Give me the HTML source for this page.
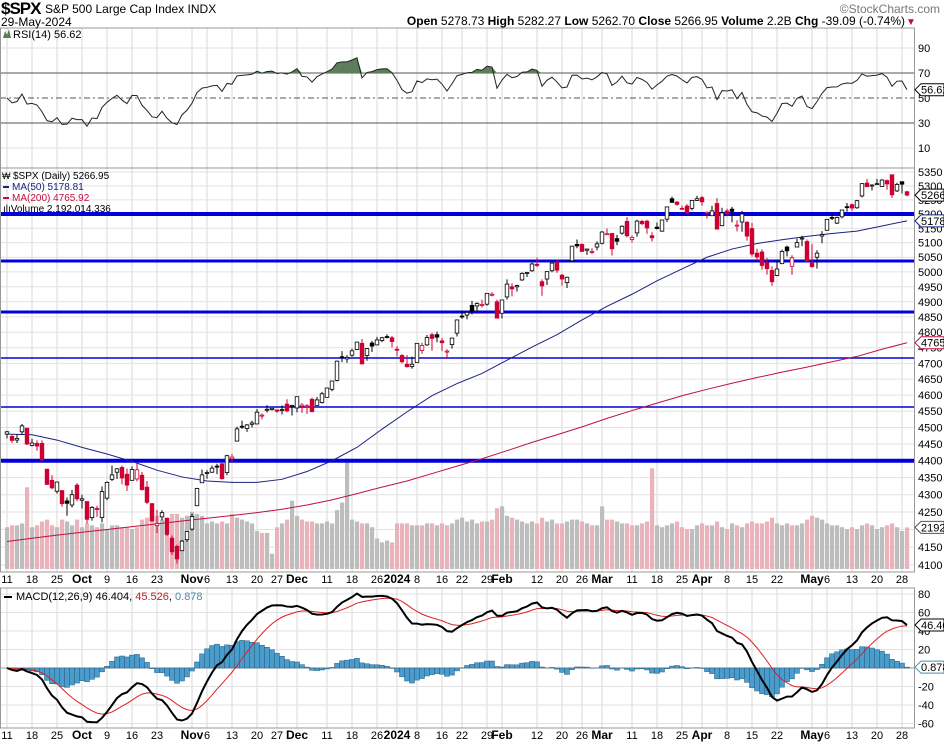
<!DOCTYPE html>
<html><head><meta charset="utf-8"><style>
html,body{margin:0;padding:0;background:#fff;}
svg{display:block;font-family:"Liberation Sans",sans-serif;}
</style></head><body>
<svg id="chart" width="944" height="746" viewBox="0 0 944 746" xmlns="http://www.w3.org/2000/svg">
<rect x="0" y="0" width="944" height="746" fill="#fff"/>
<g id="grid"></g>
<g id="vol"></g>
<g id="rsi"></g>
<g id="support"></g>
<g id="mas"></g>
<g id="candles"></g>
<g id="macd"></g>
<g id="axes"></g>
<g>
<text x="1" y="14" font-size="17" font-weight="bold" letter-spacing="-1">$SPX</text>
<text x="45" y="13" font-size="12">S&amp;P 500 Large Cap Index INDX</text>
<text x="1" y="26" font-size="12">29-May-2024</text>
<text x="940" y="13" font-size="12" fill="#777" text-anchor="end">©StockCharts.com</text>
<text x="905" y="25" font-size="12" text-anchor="end"><tspan font-weight="bold">Open</tspan> 5278.73 <tspan font-weight="bold">High</tspan> 5282.27 <tspan font-weight="bold">Low</tspan> 5262.70 <tspan font-weight="bold">Close</tspan> 5266.95 <tspan font-weight="bold">Volume</tspan> 2.2B <tspan font-weight="bold">Chg</tspan> -39.09 (-0.74%)</text>
<text x="906" y="25" font-size="10" fill="#b0103a">▼</text>
<text x="13" y="38" font-size="11">RSI(14) 56.62</text>
<path d="M3,38 L5,31 L7,35 L9,29 L11,38 Z" fill="#5a7a5a"/>
<text x="13" y="179" font-size="10">$SPX (Daily) 5266.95</text>
<text x="2" y="179" font-size="9">₩</text>
<rect x="3" y="186" width="6" height="2" fill="#1a237e"/>
<text x="12" y="190" font-size="10" fill="#1a237e">MA(50) 5178.81</text>
<rect x="3" y="197" width="6" height="2" fill="#c01040"/>
<text x="12" y="201" font-size="10" fill="#c01040">MA(200) 4765.92</text>
<text x="3" y="212" font-size="10">ılıVolume 2,192,014,336</text>
<rect x="4" y="596" width="8" height="2" fill="#000"/>
<text x="16" y="600" font-size="11">MACD(12,26,9) 46.404, <tspan fill="#c02020">45.526</tspan>, <tspan fill="#4a8ab0">0.878</tspan></text>
</g>
</svg>
<script>
const opens=[4480,4473,4462,4487,4498,4446,4452,4452,4375,4342,4310,4312,4282,4270,4328,
4284,4280,4234,4260,4234,4290,4345,4366,4380,4360,4342,4346,4357,4322,4274,4211,4236,4232,4175,4152,4140,4171,
4201,4268,4335,4365,4366,4384,4391,4365,4406,4459,4504,4497,4510,4511,4538,4554,4555,4554,4554,4572,4567,
4560,4565,4564,4587,4568,4577,4593,4618,4646,4721,4714,4726,4744,4764,4725,4765,4759,4773,4786,4782,
4745,4725,4697,4690,4703,4741,4759,4792,4792,4772,4739,4760,4797,4853,4856,4888,4886,4888,4892,4925,4900,
4862,4916,4950,4950,4973,4995,5004,5026,4967,4976,5004,5032,4989,4964,5038,5094,5094,5074,5068,5085,
5098,5131,5132,5114,5133,5174,5111,5134,5174,5175,5124,5154,5140,5182,5254,5242,5220,5228,5220,5248,
5258,5204,5194,5237,5159,5211,5217,5160,5172,5171,5149,5064,5068,5031,5005,4988,5028,5085,5019,5085,5115,5104,
5030,5050,5123,5143,5188,5168,5190,5226,5233,5222,5264,5310,5303,5306,5298,5319,5340,5282,5315,5279];
const highs=[4490,4480,4479,4511,4498,4466,4461,4461,4376,4357,4338,4313,4292,4314,4334,
4300,4281,4267,4268,4324,4339,4386,4378,4386,4377,4383,4394,4367,4340,4276,4256,4255,4233,4183,4157,4170,4194,
4245,4320,4374,4372,4386,4391,4393,4418,4421,4503,4521,4511,4521,4557,4543,4569,4560,4555,4568,4587,4570,
4595,4575,4572,4592,4594,4610,4623,4643,4709,4739,4726,4747,4769,4778,4749,4772,4785,4785,4793,4788,
4755,4729,4726,4721,4765,4766,4791,4798,4802,4782,4745,4782,4842,4868,4866,4903,4898,4907,4929,4932,4907,
4906,4975,4962,4957,4999,5000,5031,5049,4975,5002,5033,5039,4994,4984,5089,5111,5097,5080,5081,5105,
5140,5149,5134,5127,5160,5189,5125,5180,5180,5180,5136,5170,5180,5226,5261,5246,5229,5235,5249,5264,
5264,5209,5229,5256,5222,5219,5225,5178,5211,5175,5169,5079,5077,5048,5019,5039,5076,5090,5057,5114,5124,5111,
5096,5074,5140,5180,5200,5191,5215,5239,5237,5250,5309,5325,5306,5325,5324,5323,5341,5311,5315,5282];
const lows=[4467,4453,4453,4479,4447,4443,4430,4401,4329,4316,4303,4265,4239,4263,4281,
4260,4217,4225,4236,4220,4284,4340,4346,4330,4311,4342,4339,4312,4273,4223,4190,4226,4181,4128,4104,4139,4165,
4197,4268,4335,4347,4364,4360,4344,4357,4394,4459,4496,4487,4500,4511,4525,4546,4552,4545,4540,4547,4537,
4547,4545,4542,4546,4568,4574,4593,4612,4643,4704,4702,4721,4744,4697,4708,4736,4758,4768,4780,4751,
4722,4700,4687,4683,4703,4730,4756,4740,4768,4739,4714,4747,4786,4844,4842,4858,4870,4881,4887,4918,4845,
4845,4907,4918,4934,4970,4983,5000,5016,4920,4956,4999,4997,4954,4946,5038,5081,5069,5058,5061,5074,
5094,5128,5056,5091,5128,5118,5100,5121,5161,5131,5104,5146,5138,5172,5240,5229,5216,5203,5213,5246,
5229,5184,5194,5146,5157,5192,5171,5139,5138,5107,5052,5039,5008,4991,4953,4986,5028,5053,4990,5085,5088,5035,
5014,5011,5098,5143,5179,5165,5185,5208,5211,5218,5259,5296,5284,5303,5297,5286,5257,5278,5273,5263];
const closes=[4487,4461,4467,4505,4450,4453,4444,4402,4330,4320,4337,4274,4275,4300,4288,
4288,4229,4263,4258,4309,4336,4358,4376,4349,4328,4374,4373,4315,4278,4224,4217,4248,4186,4137,4117,4167,4194,
4237,4318,4358,4365,4378,4383,4347,4415,4411,4496,4502,4508,4514,4547,4538,4556,4559,4550,4555,4551,4568,
4595,4569,4567,4549,4585,4604,4622,4644,4707,4719,4719,4740,4768,4698,4747,4755,4775,4782,4783,4770,
4743,4705,4689,4697,4764,4757,4783,4780,4784,4766,4739,4781,4840,4851,4865,4868,4894,4891,4928,4925,4846,
4906,4959,4943,4954,4995,4998,5027,5022,4953,5001,5030,5006,4976,4982,5088,5089,5070,5078,5070,5096,
5137,5131,5079,5105,5157,5124,5118,5175,5166,5151,5117,5149,5179,5225,5241,5234,5218,5204,5248,5254,
5243,5206,5211,5147,5204,5202,5209,5161,5200,5123,5061,5051,5022,5011,4967,5010,5070,5072,5048,5100,5116,5036,
5018,5064,5128,5181,5187,5188,5214,5223,5221,5247,5308,5297,5303,5308,5321,5307,5268,5305,5306,5267];
const volumes=[2.2,2.3,2.3,2.4,4.3,2.2,2.3,2.5,2.6,2.3,2.2,2.6,2.5,2.3,2.6,
2.2,2.4,2.3,2.2,2.4,2.1,2.3,2.3,2.2,2.2,2.1,2.2,2.6,2.7,2.8,2.8,2.6,2.7,2.9,2.9,2.7,2.8,
3.0,2.9,2.8,2.4,2.5,2.4,2.5,2.4,2.9,2.7,2.6,2.5,2.4,2.0,1.9,1.9,0.8,2.2,2.4,2.6,3.6,
2.8,2.6,2.5,2.5,2.4,2.4,2.5,2.4,3.1,3.5,5.8,2.6,2.5,2.4,2.4,2.2,1.6,1.4,1.5,1.4,
2.4,2.4,2.4,2.3,2.3,2.3,2.4,2.4,2.3,2.4,2.3,2.4,2.6,2.7,2.5,2.6,2.4,2.5,2.5,2.6,3.2,
3.3,2.8,2.7,2.6,2.5,2.4,2.5,2.4,2.7,2.5,2.6,2.4,2.4,2.5,2.6,2.6,2.5,2.4,2.3,2.3,
3.3,2.6,2.6,2.5,2.4,2.4,2.3,2.3,2.4,2.5,5.3,2.3,2.2,2.3,2.4,2.5,2.2,2.1,2.1,2.3,
2.4,2.3,2.3,2.5,2.2,2.1,2.4,2.3,2.2,2.4,2.5,2.4,2.4,2.5,2.7,2.4,2.3,2.4,2.3,2.3,2.4,2.6,
2.8,2.7,2.6,2.4,2.3,2.3,2.2,2.1,2.2,2.1,2.3,2.4,2.3,2.1,2.2,2.3,2.4,2.2,2.0,2.19];
const ma50=[4480,4478,4462,4440,4420,4398,4372,4352,4340,4336,4336,4345,4368,4400,4440,4495,4548,4598,4636,4668,4710,4752,4792,4840,4885,4925,4970,5010,5050,5078,5097,5110,5122,5132,5140,5158,5176];
const ma200=[4166,4175,4184,4192,4200,4208,4216,4224,4232,4240,4248,4258,4270,4285,4303,4322,4340,4362,4384,4406,4430,4455,4478,4502,4528,4552,4575,4598,4618,4637,4655,4672,4688,4705,4722,4745,4766];
const supportLevels=[5200,5037,4866,4717,4563,4400];
const priceTicks=[4100,4150,4200,4250,4300,4350,4400,4450,4500,4550,4600,4650,4700,4750,4800,4850,4900,4950,5000,5050,5100,5150,5200,5250,5300,5350];
const rsiTicks=[90,70,50,30,10];
const macdTicks=[80,60,40,20,-20,-40,-60];
const dateLabelIdx=[0,5,10,15,20,25,30,37,40,45,50,54,58,64,69,74,78,82,87,91,96,99,106,111,115,119,125,130,135,139,144,149,154,161,164,169,174,179];
const dateLabelText=['11','18','25','Oct','9','16','23','Nov','6','13','20','27','Dec','11','18','26','2024','8','16','22','29','Feb','12','20','26','Mar','11','18','25','Apr','8','15','22','May','6','13','20','28'];

const NS='http://www.w3.org/2000/svg';
function mk(parent,tag,attrs){const e=document.createElementNS(NS,tag);for(const k in attrs)e.setAttribute(k,attrs[k]);parent.appendChild(e);return e;}
const PR=914;
const xi=i=>7+i*5;
const yP=p=>172+1477*Math.log(5350/p);
const yV=v=>569-v*19;
const yR=v=>98-(v-50)*1.25;
const yM=v=>668-v*0.925;
const G=id=>document.getElementById(id);

// grid
const grid=G('grid');
dateLabelIdx.forEach(i=>{
  [[28,168],[168,572],[588,728]].forEach(([a,b])=>{
    const l=mk(grid,'line',{x1:xi(i),x2:xi(i),y1:a,y2:b,stroke:'#d8d8d8','stroke-width':1});
    
    
  });
});
priceTicks.forEach(p=>{const l=mk(grid,'line',{x1:0,x2:PR,y1:yP(p),y2:yP(p),stroke:'#e2e2e2'});
  
  });
[90,10].forEach(v=>{const l=mk(grid,'line',{x1:0,x2:PR,y1:yR(v),y2:yR(v),stroke:'#e2e2e2'});
  
  });
macdTicks.forEach(v=>{const l=mk(grid,'line',{x1:0,x2:PR,y1:yM(v),y2:yM(v),stroke:'#e2e2e2'});
  
  });

// volume
const vol=G('vol');
volumes.forEach((v,i)=>{
  const down=i>0&&closes[i]<closes[i-1];
  const r=mk(vol,'rect',{x:xi(i)-2,y:yV(v),width:4.2,height:569-yV(v),fill:down?'#eab3bb':'#bdbdbd'});
  
  
});

// RSI
const rsiVals=[];let ag=12,al=12;
for(let i=0;i<closes.length;i++){
  if(i>0){const d=closes[i]-closes[i-1];ag=(ag*13+Math.max(d,0))/14;al=(al*13+Math.max(-d,0))/14;}
  rsiVals.push(100-100/(1+ag/al));
}
const rsiG=G('rsi');
[[70,'none'],[30,'none'],[50,'6,3,2,3']].forEach(([v,da])=>{
  const l=mk(rsiG,'line',{x1:0,x2:PR,y1:yR(v),y2:yR(v),stroke:'#555','stroke-width':1,'stroke-dasharray':da});
  
  
});
let fillPts='';
rsiVals.forEach((v,i)=>{fillPts+=xi(i)+','+Math.min(yR(v),yR(70))+' ';});
const cp=mk(rsiG,'clipPath',{id:'c70'});mk(cp,'rect',{x:0,y:28,width:PR,height:yR(70)-28});
const fp=mk(rsiG,'polygon',{points:xi(0)+','+yR(70)+' '+fillPts+xi(closes.length-1)+','+yR(70),fill:'#5d7d5d','clip-path':'url(#c70)'});


const rl=mk(rsiG,'polyline',{points:rsiVals.map((v,i)=>xi(i)+','+yR(v)).join(' '),fill:'none',stroke:'#222','stroke-width':1});



// support lines
const sw=[4,3,3,1.5,1.5,4];
const sg=G('support');
supportLevels.forEach((p,k)=>{
  const l=mk(sg,'line',{x1:0,x2:PR,y1:yP(p),y2:yP(p),stroke:'#0000dd','stroke-width':sw[k]});
  
  
});

// MAs
const mg=G('mas');
const m50=mk(mg,'polyline',{points:ma50.map((v,k)=>xi(k*5)+','+yP(v)).join(' '),fill:'none',stroke:'#1a237e','stroke-width':1});


const m200=mk(mg,'polyline',{points:ma200.map((v,k)=>xi(k*5)+','+yP(v)).join(' '),fill:'none',stroke:'#c01040','stroke-width':1});



// candles
const cg=G('candles');
closes.forEach((c,i)=>{
  const o=opens[i];const down=i>0&&c<closes[i-1];const col=down?'#cc0033':'#000';
  const x=xi(i);
  const w=mk(cg,'line',{x1:x,x2:x,y1:yP(highs[i]),y2:yP(lows[i]),stroke:col,'stroke-width':1});
  
  
  const top=yP(Math.max(o,c)),bot=yP(Math.min(o,c));
  const b=mk(cg,'rect',{x:x-1.8,y:top,width:3.6,height:Math.max(bot-top,1),fill:c>=o?'#fff':col,stroke:col,'stroke-width':0.8});
  
  
});

// MACD
const e12=[],e26=[],sig=[],macdV=[],hist=[];
let a=closes[0],b=closes[0],s=0;
closes.forEach((c,i)=>{a=a+(c-a)*2/13;b=b+(c-b)*2/27;const m=a-b;s=s+(m-s)*0.2;macdV.push(m);sig.push(s);hist.push(m-s);});
const mgp=G('macd');
const zl=mk(mgp,'line',{x1:0,x2:PR,y1:yM(0),y2:yM(0),stroke:'#999'});


hist.forEach((h,i)=>{
  const y0=yM(0),y1=yM(h);
  const r=mk(mgp,'rect',{x:xi(i)-2.5,y:Math.min(y0,y1),width:5,height:Math.abs(y1-y0),fill:'#4a9ccc',stroke:'#2a5f80','stroke-width':0.5});
  
  
});
const sl=mk(mgp,'polyline',{points:sig.map((v,i)=>xi(i)+','+yM(v)).join(' '),fill:'none',stroke:'#e02020','stroke-width':1});


const ml=mk(mgp,'polyline',{points:macdV.map((v,i)=>xi(i)+','+yM(v)).join(' '),fill:'none',stroke:'#000','stroke-width':2});



// axes / frames / labels
const ax=G('axes');
[[28,168],[168,572],[588,728]].forEach(([a1,b1])=>{
  const r=mk(ax,'rect',{x:0.5,y:a1,width:PR,height:b1-a1,fill:'none',stroke:'#999'});
  
  
});
function txt(x,y,t,attrs,name){const e=mk(ax,'text',Object.assign({x:x,y:y,'font-size':11},attrs||{}));e.textContent=t;
  
  return e;}
priceTicks.forEach(p=>txt(918,yP(p)+4,String(p),{},'price-tick-label'));
rsiTicks.forEach(v=>txt(918,yR(v)+4,String(v),{},'rsi-tick-label'));
macdTicks.forEach(v=>txt(918,yM(v)+4,String(v),{},'macd-tick-label'));
[[583],[739]].forEach(([yy])=>{
  dateLabelIdx.forEach((i,k)=>{
    const bold=isNaN(+dateLabelText[k])||dateLabelText[k]==='2024';
    txt(xi(i),yy,dateLabelText[k],{'text-anchor':'middle','font-weight':bold?'bold':'normal','font-size':bold?12:11},'date-label');
  });
});
function marker(y,t,color,name){
  const p=mk(ax,'path',{d:`M915,${y} L921,${y-6} L944,${y-6} L944,${y+6} L921,${y+6} Z`,fill:'#fff',stroke:color,'stroke-width':1});
  
  
  txt(921,y+4,t,{fill:'#000','font-size':11},name);
}
marker(yP(closes[closes.length-1]),'5266.95','#000','last-price-marker');
marker(yP(ma50[ma50.length-1]),'5178.81','#1a237e','ma50-marker');
marker(yP(ma200[ma200.length-1]),'4765.92','#c01040','ma200-marker');
marker(yV(volumes[volumes.length-1]),'2192014336','#555','volume-marker');
marker(yR(rsiVals[rsiVals.length-1]),'56.62','#000','rsi-marker');
marker(yM(macdV[macdV.length-1]),'46.404','#000','macd-marker');
marker(yM(hist[hist.length-1]),'0.878','#4a8ab0','histogram-marker');
</script>
</body></html>
